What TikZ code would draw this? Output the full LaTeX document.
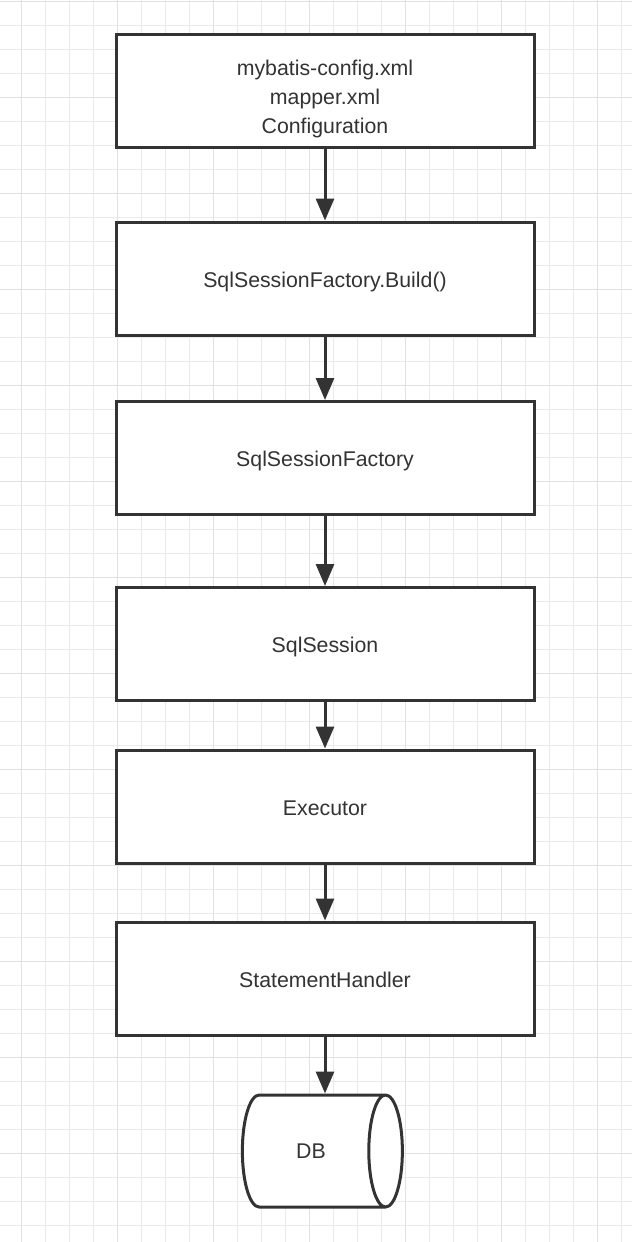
\documentclass[tikz,border=0pt]{standalone}
\usepackage{fontspec}
\setmainfont{Liberation Sans}
\usepackage{tikz}
\usetikzlibrary{arrows.meta}
\usetikzlibrary{shapes.geometric}
\usetikzlibrary{positioning}
\definecolor{edge}{HTML}{333333}
\definecolor{minorgrid}{HTML}{EBEAEB}
\definecolor{majorgrid}{HTML}{E2E0E2}
\tikzset{step box/.style={rectangle,draw=edge,fill=white,line width=3pt,minimum width=418pt,minimum height=113pt,inner sep=0pt,font=\fontsize{21.3}{29}\selectfont,text=edge,align=center}}
\tikzset{one line/.style={text height=17pt,text depth=0pt}}

\begin{document}
\begin{tikzpicture}[x=1pt,y=-1pt]
  % some styles
  \tikzset{
    flow/.style={
      draw=edge,
      line width=3pt,
      -{Triangle[width=18pt,length=22pt]}
    }
  }
  \tikzset{
    store/.style={
      cylinder,
      draw=edge,
      fill=white,
      line width=3pt,
      minimum width=112pt,
      minimum height=160pt,
      aspect=1.8,
      inner sep=2pt,
      text=edge,
      font=\fontsize{21.3}{24}\selectfont
    }
  }

\useasboundingbox[fill=white] (0,0) rectangle (632,1242);

% paper grid
\foreach \i in {0,...,25} 
    \draw[minorgrid,line width=1pt] (21+24*\i,0) -- (21+24*\i,1242);
\foreach \j in {0,...,51} 
    \draw[minorgrid,line width=1pt] (0,1+24*\j) -- (632,1+24*\j);
\foreach \i in {0,...,6} 
    \draw[majorgrid,line width=1pt] (21+96*\i,0) -- (21+96*\i,1242);
\foreach \j in {0,...,12} 
    \draw[majorgrid,line width=1pt] (0,1+96*\j) -- (632,1+96*\j);

\node[step box] (config) at (325,90.5) {\mbox{}\\[3pt]mybatis-config.xml\\mapper.xml\\Configuration};
\node[step box,one line] (build) at (325,278.5) {SqlSessionFactory.Build()};
\node[step box,one line] (factory) at (325,458) {SqlSessionFactory};
\node[step box,one line] (session) at (325,644) {SqlSession};
\node[step box,one line] (executor) at (325,806.5) {Executor};
\node[step box,one line] (handler) at (325,978.5) {StatementHandler};
\node[store] (db) at (311,1151) {DB};

\draw[flow] (config) -- (build);
\draw[flow] (build) -- (factory);
\draw[flow] (factory) -- (session);
\draw[flow] (session) -- (executor);
\draw[flow] (executor) -- (handler);
\draw[flow] (handler.south) -- (handler.south |- db.north);

\end{tikzpicture}
\end{document}
